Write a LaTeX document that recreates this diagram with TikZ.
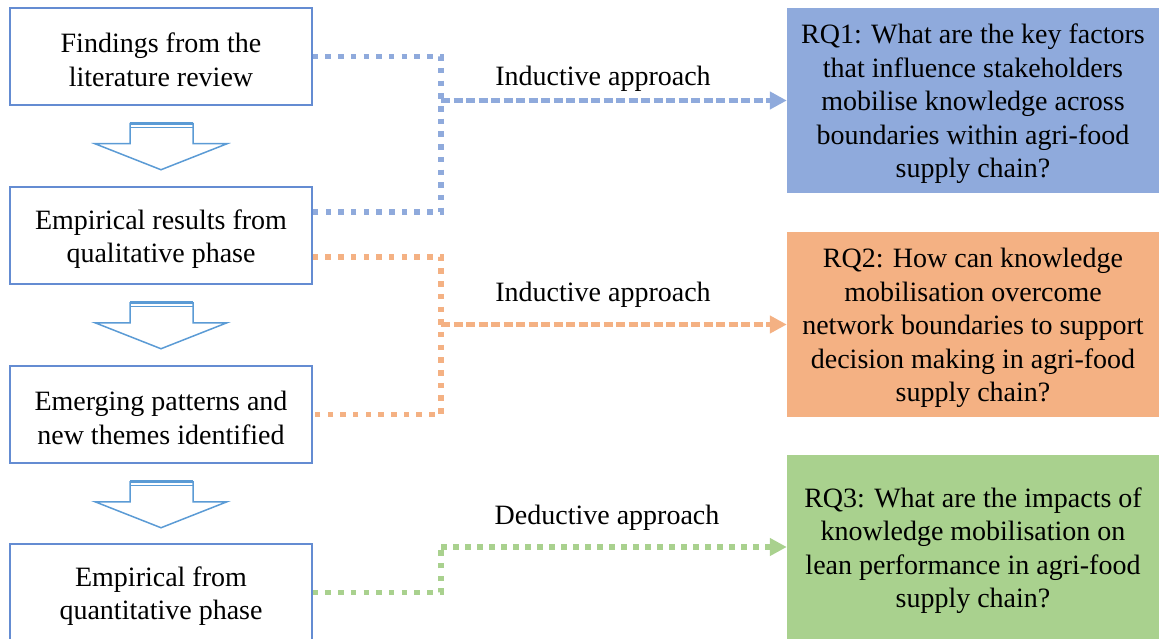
\documentclass[tikz,border=0pt]{standalone}
\usepackage{fontspec}
\setmainfont{Liberation Serif}
\usetikzlibrary{arrows.meta,calc}
\definecolor{boxedge}{RGB}{100,140,210}
\definecolor{arrowedge}{RGB}{91,155,213}
\definecolor{rqblue}{RGB}{143,170,220}
\definecolor{rqorange}{RGB}{244,177,131}
\definecolor{rqgreen}{RGB}{169,209,142}
\begin{document}
\begin{tikzpicture}[x=1pt,y=-1pt,
  every node/.style={font=\fontsize{28}{33.5}\selectfont, align=center, inner sep=0pt},
  boxtext/.style={label={[yshift=-3.5pt]center:{#1}}},
  stagebox/.style={draw=boxedge, line width=1.5pt, fill=white, minimum width=302pt, minimum height=97pt, boxtext={#1}},
  rqbox/.style={minimum width=372pt, minimum height=185pt, boxtext={#1}},
  link/.style={line width=5.5pt, dash pattern=on 5.5pt off 7.2pt},
  lead/.style={line width=5.5pt, dash pattern=on 9pt off 3.5pt, -{Triangle[length=17pt,width=17pt]}},
  leaddot/.style={line width=5.5pt, dash pattern=on 6pt off 6pt, -{Triangle[length=17pt,width=17pt]}},
  blockarrow/.style={draw=arrowedge, line width=1.5pt, fill=white, line join=miter}]
\useasboundingbox (0,0) rectangle (1159,639);

% stages of the study
\node[stagebox={Findings from the\\literature review}]       (f1) at (161,56.5)  {};
\node[stagebox={Empirical results from\\qualitative phase}]  (f2) at (161,235.5) {};
\node[stagebox={Emerging patterns and\\new themes identified}] (f3) at (161,414.5) {};
\node[stagebox={Empirical from\\quantitative phase}]         (f4) at (161,592.5) {};

% research questions
\node[rqbox={RQ1: What are the key factors\\that influence stakeholders\\mobilise knowledge across\\boundaries within agri-food\\supply chain?}, fill=rqblue] (rq1) at (973,100.5) {};
\node[rqbox={RQ2: How can knowledge\\mobilisation overcome\\network boundaries to support\\decision making in agri-food\\supply chain?}, fill=rqorange] (rq2) at (973,324.5) {};
\node[rqbox={RQ3: What are the impacts of\\knowledge mobilisation on\\lean performance in agri-food\\supply chain?}, fill=rqgreen] (rq3) at (973,547) {};

% approach labels
\node (l1) at (603,79)  {Inductive approach};
\node (l2) at (603,295) {Inductive approach};
\node (l3) at (607,518) {Deductive approach};

% block arrows between stages
\foreach \s in {f1,f2,f3} {
  \coordinate (t) at ($(\s.south)+(0,18)$);
  \draw[blockarrow] ($(t)+(-31,0)$) -- ($(t)+(32,0)$) -- ($(t)+(32,20)$) -- ($(t)+(66,20)$)
    -- ($(t)+(0,46)$) -- ($(t)+(-66,20)$) -- ($(t)+(-31,20)$) -- cycle;
  \draw[arrowedge, line width=3pt] ($(t)+(-31,0)$) -- ($(t)+(32,0)$);
  \draw[arrowedge, line width=1.2pt] ($(t)+(-31,4)$) -- ($(t)+(32,4)$);
}

% junctions
\coordinate (j1) at (441,100.5);
\coordinate (j2) at (441,324.5);
\coordinate (j3) at (441,547);
\coordinate (b2) at ($(f2.east)+(0,-23.5)$);
\coordinate (o2) at ($(f2.east)+(0,21.5)$);

% inductive link to RQ1
\draw[link, rqblue] (f1.east) -| (j1 |- b2) -- (b2);
\draw[lead, rqblue] (j1) -- (rq1.west);

% inductive link to RQ2
\draw[link, rqorange] (o2) -| (j2 |- f3.east) -- (f3.east);
\draw[lead, rqorange] (j2) -- (rq2.west);

% deductive link to RQ3
\draw[link, rqgreen] (f4.east) -| (j3);
\draw[leaddot, rqgreen] (j3) -- (rq3.west);
\end{tikzpicture}
\end{document}
